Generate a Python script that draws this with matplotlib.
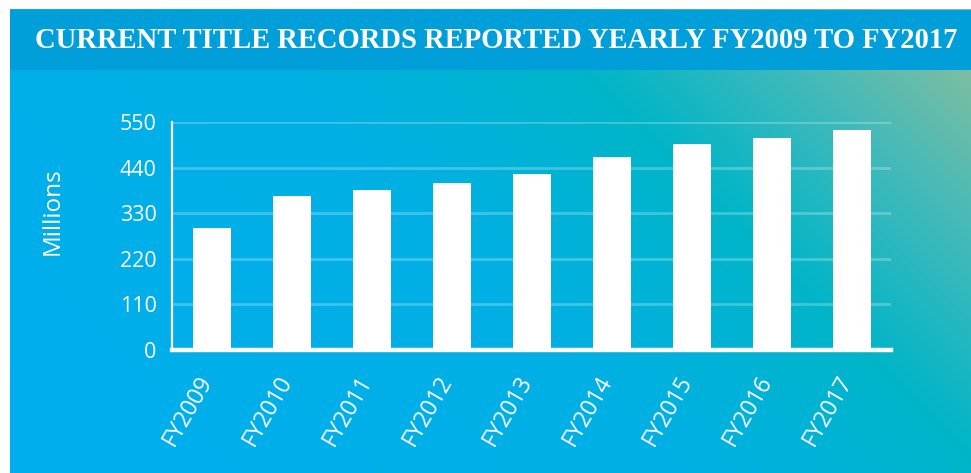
import numpy as np
import matplotlib.pyplot as plt
from matplotlib.patches import Rectangle

# dados
anos = ["FY2009", "FY2010", "FY2011", "FY2012", "FY2013",
        "FY2014", "FY2015", "FY2016", "FY2017"]
registros = [294, 371, 385, 403, 425, 466, 497, 511, 531]
yticks = [0, 110, 220, 330, 440, 550]

W, H = 971, 473
fig = plt.figure(figsize=(W / 100, H / 100), dpi=100)

# fundo em degradê (azul -> turquesa -> verde no canto superior direito)
bg = fig.add_axes([0, 0, 1, 1], zorder=0)
bg.set_axis_off()
yy, xx = np.mgrid[0:H, 0:W]
t = (xx + (H - yy)) / (W + H - 70)
stops = [0.0, 0.5, 0.72, 0.88, 1.0]
cores = np.array([[0, 174, 239], [0, 176, 228], [0, 181, 200],
                  [70, 186, 185], [125, 190, 160]]) / 255
img = np.dstack([np.interp(t, stops, cores[:, c]) for c in range(3)])
img[:, :10] = 1
img[:10, :] = 1
bg.imshow(img, extent=[0, 1, 0, 1], aspect="auto", origin="upper")
bg.set_xlim(0, 1)
bg.set_ylim(0, 1)
bg.add_patch(Rectangle((10 / W, 1 - 70 / H), 1 - 10 / W, 60 / H,
                       color="#009fda", lw=0, transform=fig.transFigure))

fig.text(496 / W, 1 - 41 / H, "CURRENT TITLE RECORDS REPORTED YEARLY FY2009 TO FY2017",
         color="white", family="Liberation Serif", fontsize=20.6, fontweight="bold",
         ha="center", va="center", zorder=5)

# gráfico de barras
ax = fig.add_axes([172 / W, 1 - 350 / H, 719 / W, 228 / H], zorder=2)
ax.patch.set_alpha(0)
x = np.arange(len(anos))
ax.bar(x, registros, width=0.475, color="white", zorder=3)

ax.set_xlim(-0.5, 8.49)
ax.set_ylim(0, 550)
ax.set_yticks(yticks)
ax.set_xticks(x)
ax.set_xticklabels(anos, rotation=60, ha="right", va="baseline",
                   rotation_mode="anchor",
                   fontsize=16.5, family="Open Sans", color="white")
ax.tick_params(axis="both", length=0)
ax.tick_params(axis="y", labelsize=15.5, labelcolor="white", pad=11)
ax.tick_params(axis="x", pad=22)
for lab in ax.get_yticklabels():
    lab.set_family("Open Sans")

ax.grid(axis="y", color="white", alpha=0.25, lw=2)
ax.set_axisbelow(True)
for s in ["top", "right"]:
    ax.spines[s].set_visible(False)
ax.spines["left"].set_color("white")
ax.spines["left"].set_linewidth(1.6)
ax.spines["bottom"].set_color("white")
ax.spines["bottom"].set_linewidth(3.2)

ax.set_ylabel("Millions", color="white", fontsize=17.5, family="Open Sans")
ax.yaxis.set_label_coords(-0.149, 0.61)

fig.savefig("out.png", dpi=100)
